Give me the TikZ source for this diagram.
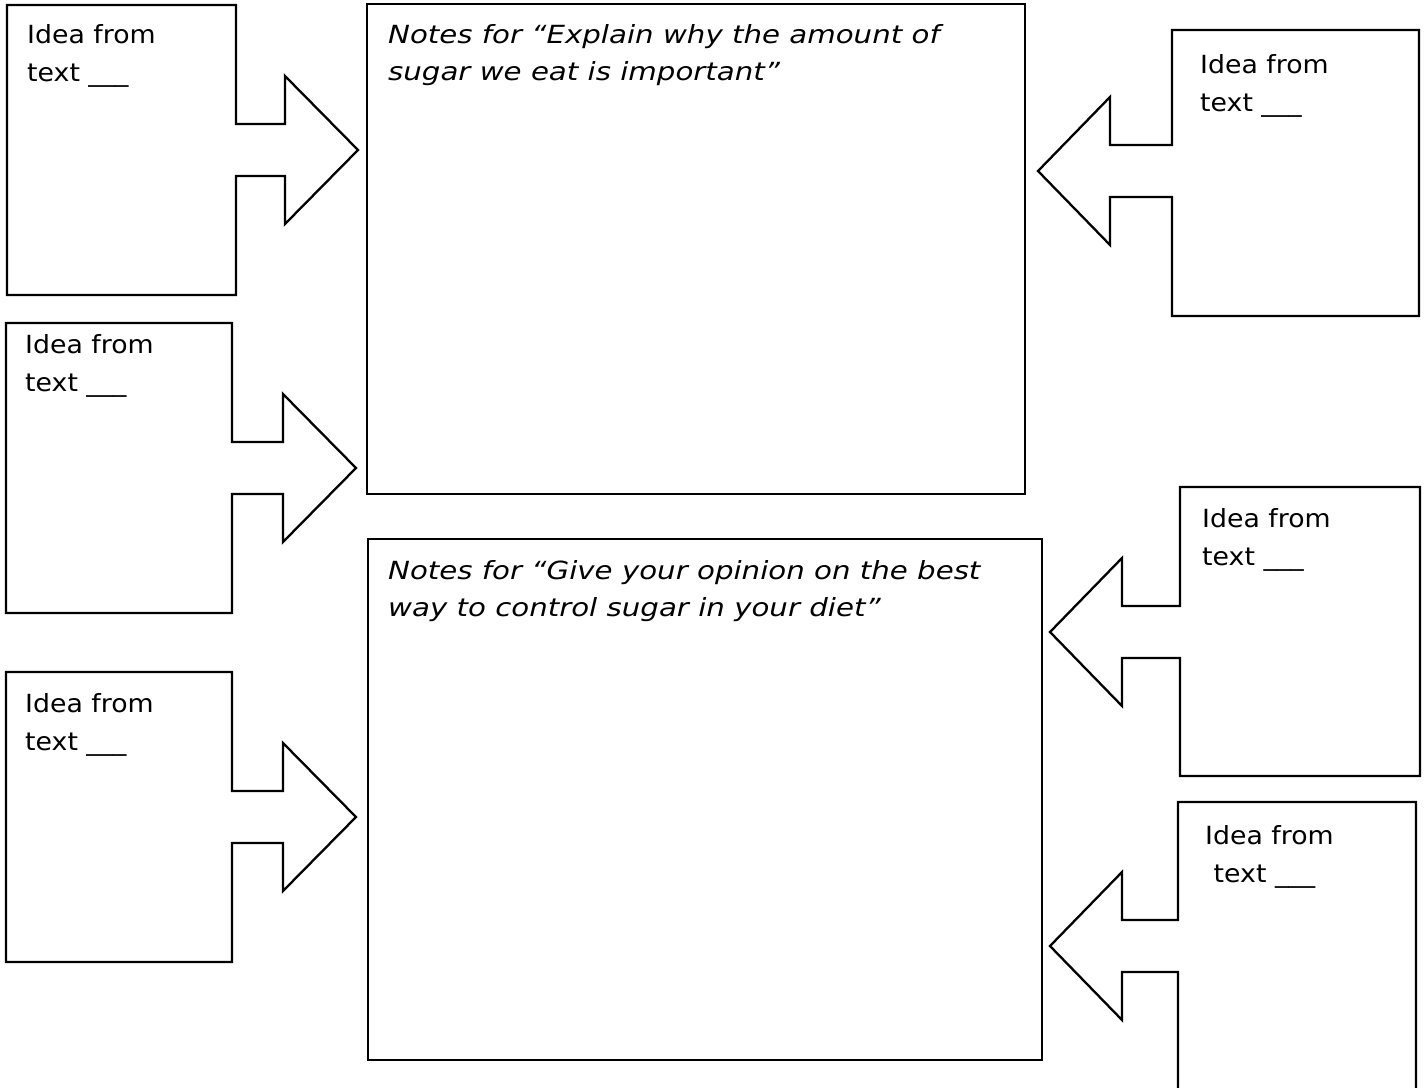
\documentclass[tikz,border=0pt]{standalone}
\usepackage{fontspec}
\setmainfont{DejaVu Sans}
\newfontfamily\ideafont{DejaVu Sans}[FakeStretch=1.07]
\newfontfamily\notesfont{DejaVu Sans}[FakeStretch=1.17]
\tikzset{
  idea/.style={font=\ideafont\fontsize{25}{38}\selectfont, align=left, inner sep=0pt, anchor=base west},
  notes/.style={font=\notesfont\itshape\fontsize{25}{37}\selectfont, align=left, inner sep=0pt, anchor=base west},
  callout/.style={line width=2.3pt},
  notesbox/.style={line width=1.6pt}
}

\begin{document}
\begin{tikzpicture}[x=1pt, y=-1pt]
  \useasboundingbox (0,0) rectangle (1424,1087);
  \clip (0,0) rectangle (1424,1087);
  %cadres de notes
  \draw[notesbox] (367,4) rectangle (1025,494);
  \draw[notesbox] (368,539) rectangle (1042,1060);
  %ancre sur la derniere ligne
  \node[notes] (explain) at (388,80) {Notes for “Explain why the amount of\\sugar we eat is important”};
  \node[notes] (opinion) at (388,616) {Notes for “Give your opinion on the best\\way to control sugar in your diet”};
  %idees a gauche
  \foreach \lx/\ty/\rx/\by/\px/\py in {7/5/236/295/358/150, 6/323/232/613/356/468, 6/672/232/962/356/817}{
    \draw[callout] (\lx,\ty) -- (\rx,\ty) -- (\rx,\py-26) -- (\px-73,\py-26) -- (\px-73,\py-74)
      -- (\px,\py) -- (\px-73,\py+74) -- (\px-73,\py+26) -- (\rx,\py+26) -- (\rx,\by) -- (\lx,\by) -- cycle;
  }
  %idees a droite
  \foreach \lx/\ty/\rx/\by/\px/\py in {1172/30/1419/316/1038/171, 1180/487/1420/776/1050/632, 1178/802/1416/1095/1050/946}{
    \draw[callout] (\rx,\ty) -- (\lx,\ty) -- (\lx,\py-26) -- (\px+72,\py-26) -- (\px+72,\py-74)
      -- (\px,\py) -- (\px+72,\py+74) -- (\px+72,\py+26) -- (\lx,\py+26) -- (\lx,\by) -- (\rx,\by) -- cycle;
  }
  \node[idea] (left1) at (27,81) {Idea from\\text \_\_\_};
  \node[idea] (left2) at (25,391) {Idea from\\text \_\_\_};
  \node[idea] (left3) at (25,750) {Idea from\\text \_\_\_};
  \node[idea] (right1) at (1200,111) {Idea from\\text \_\_\_};
  \node[idea] (right2) at (1202,565) {Idea from\\text \_\_\_};
  \node[idea] (right3) at (1205,882) {Idea from\\\ text \_\_\_};
\end{tikzpicture}
\end{document}
